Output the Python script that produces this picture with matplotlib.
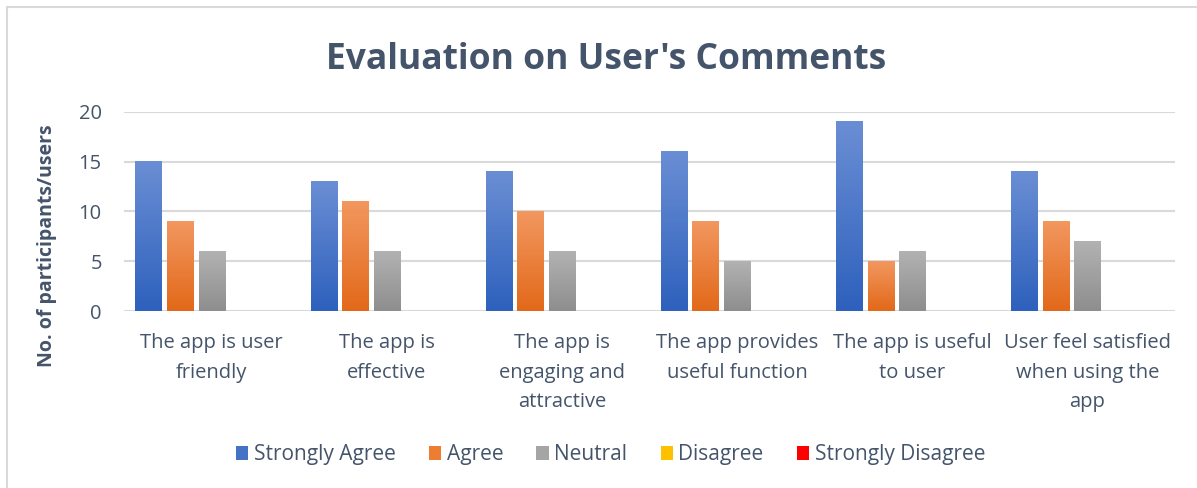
import numpy as np
import matplotlib
matplotlib.use("Agg")
import matplotlib.pyplot as plt
from matplotlib.patches import Patch, Rectangle
from matplotlib.colors import LinearSegmentedColormap

categories = ["The app is user\nfriendly", "The app is\neffective",
              "The app is\nengaging and\nattractive", "The app provides\nuseful function",
              "The app is useful\nto user", "User feel satisfied\nwhen using the\napp"]
series = ["Strongly Agree", "Agree", "Neutral", "Disagree", "Strongly Disagree"]
strongly_agree = [15, 13, 14, 16, 19, 14]
agree = [9, 11, 10, 9, 5, 9]
neutral = [6, 6, 6, 5, 6, 7]
disagree = [0, 0, 0, 0, 0, 0]
strongly_disagree = [0, 0, 0, 0, 0, 0]
values = [strongly_agree, agree, neutral, disagree, strongly_disagree]

# (top colour, bottom colour) for the gradient fills
grads = [("#6A8ED4", "#2E61BD"), ("#F2975F", "#E2691A"), ("#B2B2B2", "#8E8E8E"),
         ("#FFCD33", "#F2B800"), ("#FF2020", "#E00000")]
solid = ["#4472C4", "#ED7D31", "#A5A5A5", "#FFC000", "#FF0000"]

txt = "#44546A"
plt.rcParams["font.family"] = ["Open Sans", "DejaVu Sans"]

fig = plt.figure(figsize=(11.97, 4.88), dpi=100)
ax = fig.add_axes([0.1036, 0.3627, 0.878, 0.4078])

x = np.arange(len(categories))
w = 0.149
step = 0.18
grad = np.linspace(1, 0, 64).reshape(-1, 1)
for i, vals in enumerate(values):
    cmap = LinearSegmentedColormap.from_list("g%d" % i, [grads[i][1], grads[i][0]])
    for xi, v in zip(x, vals):
        x0 = xi + (i - 2) * step - w / 2
        if v <= 0:
            continue
        ax.imshow(grad, extent=(x0, x0 + w, 0, v), cmap=cmap, vmin=0, vmax=1,
                  aspect="auto", zorder=3, interpolation="bilinear")

ax.set_xlim(-0.5, len(categories) - 0.5)
ax.set_ylim(0, 20)
ax.set_aspect("auto")
ax.set_yticks([0, 5, 10, 15, 20])
ax.yaxis.grid(True, color="#D9D9D9", linewidth=1.5)
ax.set_axisbelow(True)
for s in ax.spines.values():
    s.set_visible(False)
ax.set_xticks(x)
ax.set_xticklabels(categories, fontsize=14.5, color=txt, linespacing=1.62)
ax.tick_params(axis="both", length=0, colors=txt, labelsize=14.5)
ax.tick_params(axis="y", pad=16)
ax.tick_params(axis="x", pad=16)
ax.set_ylabel("No. of participants/users", fontsize=14, fontweight="bold", color=txt)
ax.yaxis.set_label_coords(-0.064, 0.33)

fig.text(0.506, 0.878, "Evaluation on User's Comments", ha="center", va="center",
         fontsize=25.5, fontweight="bold", color=txt)

handles = [Patch(facecolor=c, edgecolor="none") for c in solid]
fig.legend(handles, series, loc="center", bbox_to_anchor=(0.51, 0.068), ncol=5,
           frameon=False, fontsize=15, labelcolor=txt, handlelength=0.6,
           handleheight=0.6, handletextpad=0.25, columnspacing=1.6)

fig.patches.append(Rectangle((7 / 1197, -0.1), 1.2, 1 - 7 / 488 + 0.1, transform=fig.transFigure,
                             fill=False, edgecolor="#D9D9D9", linewidth=1.5))

fig.savefig("out.png", dpi=100)
